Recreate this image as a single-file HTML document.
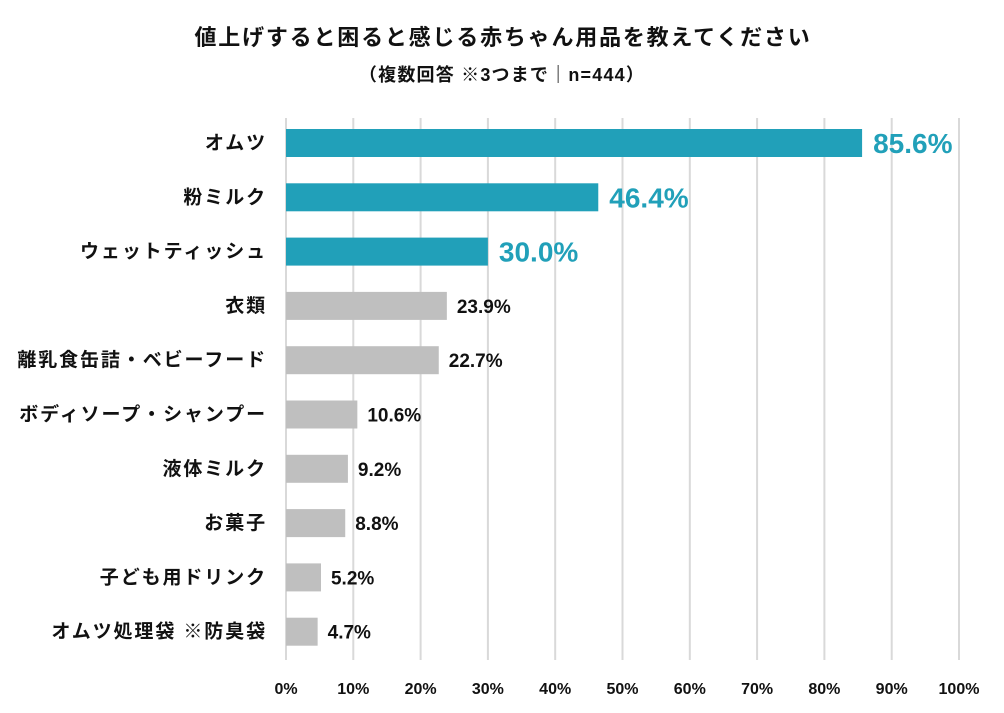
<!DOCTYPE html>
<html><head><meta charset="utf-8"><style>
body{margin:0;background:#fff;width:1004px;height:708px;overflow:hidden;font-family:"Liberation Sans","Noto Sans CJK JP",sans-serif;}
</style></head><body>
<svg id="chart" width="1004" height="708" xmlns="http://www.w3.org/2000/svg">
<text x="503" y="45" text-anchor="middle" font-size="22" letter-spacing="1.8" font-weight="bold" fill="#111">値上げすると困ると感じる赤ちゃん用品を教えてください</text>
<text x="502" y="81" text-anchor="middle" font-size="18" letter-spacing="1.2" font-weight="bold" fill="#111">（複数回答 ※3つまで｜n=444）</text>
<g id="grid"></g><g id="bars"></g><g id="labels"></g>
</svg>
<script>
const categories=["オムツ","粉ミルク","ウェットティッシュ","衣類","離乳食缶詰・ベビーフード","ボディソープ・シャンプー","液体ミルク","お菓子","子ども用ドリンク","オムツ処理袋 ※防臭袋"];
const values=[85.6,46.4,30.0,23.9,22.7,10.6,9.2,8.8,5.2,4.7];
const highlighted=[true,true,true,false,false,false,false,false,false,false];
const ticks=[0,10,20,30,40,50,60,70,80,90,100];
const NS="http://www.w3.org/2000/svg";
const x0=286,x1=959,yTop=118,yBot=660,firstRow=143,rowStep=54.3,barH=28;
const xs=v=>x0+(x1-x0)*v/100;
const ys=i=>firstRow+i*rowStep;
const g=document.getElementById('grid'),b=document.getElementById('bars'),l=document.getElementById('labels');
function mk(tag,attrs,parent){const e=document.createElementNS(NS,tag);for(const k in attrs)e.setAttribute(k,attrs[k]);parent.appendChild(e);return e;}
ticks.forEach(t=>{
 const ln=mk('line',{x1:xs(t),x2:xs(t),y1:yTop,y2:yBot,stroke:'#d9d9d9','stroke-width':2},g);
 
 
 const tx=mk('text',{x:xs(t),y:694,'text-anchor':'middle','font-size':16,'font-weight':'bold',fill:'#111'},l);
 tx.textContent=t+'%';
 
 
});
categories.forEach((c,i)=>{
 const y=ys(i),v=values[i],h=highlighted[i];
 const r=mk('rect',{x:x0,y:y-barH/2,width:xs(v)-x0,height:barH,fill:h?'#21a0b9':'#bfbfbf'},b);
 
 
 const ct=mk('text',{x:267,y:y+6,'text-anchor':'end','font-size':19,'letter-spacing':1.9,'font-weight':'bold',fill:'#111'},l);
 ct.textContent=c;
 
 
 const vt=mk('text',{x:xs(v)+(h?11:10),y:y+(h?10:7),'font-size':h?28:19,'font-weight':'bold',fill:h?'#21a0b9':'#111'},l);
 vt.textContent=v.toFixed(1)+'%';
 
 
});
</script>
</body></html>
